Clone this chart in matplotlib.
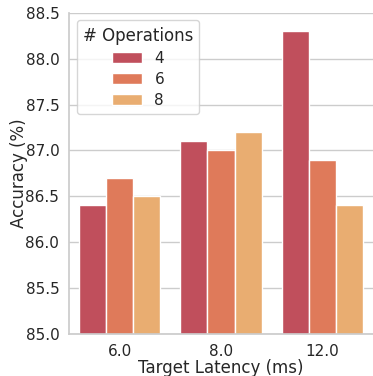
import matplotlib
matplotlib.use("Agg")
import matplotlib.pyplot as plt
import seaborn as sns
import pandas as pd

latencies = ["6.0", "8.0", "12.0"]
operations = ["4", "6", "8"]
acc_ops4 = [86.4, 87.1, 88.3]
acc_ops6 = [86.7, 87.0, 86.9]
acc_ops8 = [86.5, 87.2, 86.4]
colors = ["#c04f5c", "#df7a5a", "#e9ad71"]

rows = []
for lat, a, b, c in zip(latencies, acc_ops4, acc_ops6, acc_ops8):
    rows.append((lat, "4", a))
    rows.append((lat, "6", b))
    rows.append((lat, "8", c))
df = pd.DataFrame(rows, columns=["latency", "ops", "acc"])

sns.set_theme(style="whitegrid")
plt.rcParams["font.family"] = ["DejaVu Sans"]

fig = plt.figure(figsize=(3.73, 3.76), dpi=100)
ax = fig.add_axes([0.185, 0.112, 0.815, 0.854])
sns.barplot(data=df, x="latency", y="acc", hue="ops", palette=colors,
            saturation=1, ax=ax, edgecolor="white", linewidth=1)
ax.set_ylim(85.0, 88.5)
ax.set_yticks([85.0, 85.5, 86.0, 86.5, 87.0, 87.5, 88.0, 88.5])
ax.set_yticklabels(["85.0", "85.5", "86.0", "86.5", "87.0", "87.5", "88.0", "88.5"])
ax.tick_params(labelsize=11, pad=1)
ax.set_xlabel("Target Latency (ms)", fontsize=12, labelpad=0)
ax.set_ylabel("Accuracy (%)", fontsize=12, labelpad=-2)
sns.despine(ax=ax)
ax.legend(title="# Operations", fontsize=11, title_fontsize=12, loc="upper left",
          labelspacing=0.4)
fig.savefig("out.png", dpi=100)
